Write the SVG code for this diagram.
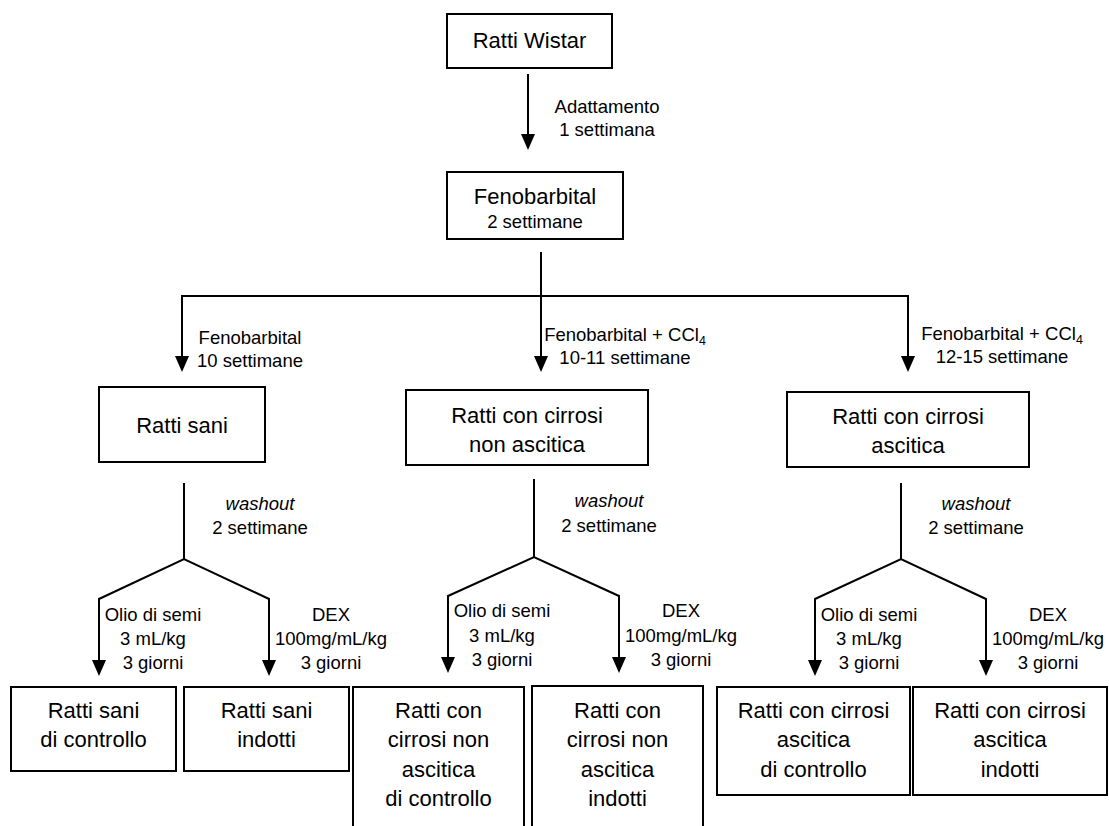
<svg xmlns="http://www.w3.org/2000/svg" width="1109" height="826" viewBox="0 0 1109 826">
<style>
text{font-family:"Liberation Sans",Arial,sans-serif;fill:#000;text-anchor:middle}
.b{font-size:22px}
.s{font-size:18.5px}
.i{font-style:italic}
.box{fill:#fff;stroke:#000;stroke-width:2}
.c{fill:none;stroke:#000;stroke-width:2;stroke-linejoin:miter}
.a{marker-end:url(#ah)}
.aa{marker-start:url(#ah);marker-end:url(#ah)}
</style>
<defs>
<marker id="ah" viewBox="0 -7 16 14" refX="6" refY="0" markerWidth="16" markerHeight="14" markerUnits="userSpaceOnUse" orient="auto-start-reverse">
<path d="M0,-7 L16,0 L0,7 z" fill="#000"/>
</marker>
</defs>
<rect width="1109" height="826" fill="#fff"/>

<g id="connectors">
<path class="c a" d="M528,74 V140"/>
<path class="c a" d="M541,252 V362"/>
<path class="c a" d="M182,362 V296 H908 V362"/>
<path class="c a" d="M182,300 V362"/>
<path class="c" d="M184,483 V559"/>
<path class="c aa" d="M99,666 V599 L184,559 L269,599 V666"/>
<path class="c" d="M534,479 V557"/>
<path class="c aa" d="M448,663 V596 L534,557 L619,596 V663"/>
<path class="c" d="M901,483 V559"/>
<path class="c aa" d="M815,666 V599 L901,559 L986,599 V666"/>
</g>

<g id="labels">
<text class="s" x="607" y="113">Adattamento</text>
<text class="s" x="607" y="136">1 settimana</text>
<text class="s" x="250" y="344">Fenobarbital</text>
<text class="s" x="250" y="367">10 settimane</text>
<text class="s" x="625" y="341">Fenobarbital + CCl<tspan font-size="12.5" dy="4">4</tspan></text>
<text class="s" x="625" y="364">10-11 settimane</text>
<text class="s" x="1002" y="340">Fenobarbital + CCl<tspan font-size="12.5" dy="4">4</tspan></text>
<text class="s" x="1002" y="363">12-15 settimane</text>
<text class="s i" x="260" y="510">washout</text>
<text class="s" x="260" y="534">2 settimane</text>
<text class="s i" x="609" y="507">washout</text>
<text class="s" x="609" y="532">2 settimane</text>
<text class="s i" x="976" y="510">washout</text>
<text class="s" x="976" y="534">2 settimane</text>
<text class="s" x="153" y="621">Olio di semi</text>
<text class="s" x="153" y="645">3 mL/kg</text>
<text class="s" x="153" y="669">3 giorni</text>
<text class="s" x="331" y="621">DEX</text>
<text class="s" x="331" y="645">100mg/mL/kg</text>
<text class="s" x="331" y="669">3 giorni</text>
<text class="s" x="502" y="617">Olio di semi</text>
<text class="s" x="502" y="642">3 mL/kg</text>
<text class="s" x="502" y="666">3 giorni</text>
<text class="s" x="681" y="617">DEX</text>
<text class="s" x="681" y="642">100mg/mL/kg</text>
<text class="s" x="681" y="666">3 giorni</text>
<text class="s" x="869" y="621">Olio di semi</text>
<text class="s" x="869" y="645">3 mL/kg</text>
<text class="s" x="869" y="669">3 giorni</text>
<text class="s" x="1048" y="621">DEX</text>
<text class="s" x="1048" y="645">100mg/mL/kg</text>
<text class="s" x="1048" y="669">3 giorni</text>
</g>

<g id="n-wistar">
<rect class="box" x="447" y="14" width="165" height="54"/>
<text class="b" x="529.5" y="48">Ratti Wistar</text>
</g>
<g id="n-fenobarbital">
<rect class="box" x="447" y="172" width="176" height="67"/>
<text class="b" x="535" y="204">Fenobarbital</text>
<text class="s" x="535" y="228">2 settimane</text>
</g>
<g id="n-sani">
<rect class="box" x="99" y="387" width="166" height="75"/>
<text class="b" x="182" y="433">Ratti sani</text>
</g>
<g id="n-nonascitica">
<rect class="box" x="406" y="390" width="242" height="75"/>
<text class="b" x="527" y="423">Ratti con cirrosi</text>
<text class="b" x="527" y="452">non ascitica</text>
</g>
<g id="n-ascitica">
<rect class="box" x="787" y="392" width="242" height="75"/>
<text class="b" x="908" y="424">Ratti con cirrosi</text>
<text class="b" x="908" y="453">ascitica</text>
</g>
<g id="n-sani-controllo">
<rect class="box" x="11" y="687" width="165" height="84"/>
<text class="b" x="93.5" y="718">Ratti sani</text>
<text class="b" x="93.5" y="747">di controllo</text>
</g>
<g id="n-sani-indotti">
<rect class="box" x="184" y="687" width="165" height="84"/>
<text class="b" x="266.5" y="718">Ratti sani</text>
<text class="b" x="266.5" y="747">indotti</text>
</g>
<g id="n-nonascitica-controllo">
<rect class="box" x="353" y="687" width="171" height="150"/>
<text class="b" x="438.5" y="718">Ratti con</text>
<text class="b" x="438.5" y="747">cirrosi non</text>
<text class="b" x="438.5" y="777">ascitica</text>
<text class="b" x="438.5" y="806">di controllo</text>
</g>
<g id="n-nonascitica-indotti">
<rect class="box" x="532" y="686" width="171" height="151"/>
<text class="b" x="617.5" y="718">Ratti con</text>
<text class="b" x="617.5" y="747">cirrosi non</text>
<text class="b" x="617.5" y="777">ascitica</text>
<text class="b" x="617.5" y="806">indotti</text>
</g>
<g id="n-ascitica-controllo">
<rect class="box" x="717" y="687" width="193" height="108"/>
<text class="b" x="813.5" y="718">Ratti con cirrosi</text>
<text class="b" x="813.5" y="747">ascitica</text>
<text class="b" x="813.5" y="777">di controllo</text>
</g>
<g id="n-ascitica-indotti">
<rect class="box" x="913" y="687" width="194" height="108"/>
<text class="b" x="1010" y="718">Ratti con cirrosi</text>
<text class="b" x="1010" y="747">ascitica</text>
<text class="b" x="1010" y="777">indotti</text>
</g>
</svg>
